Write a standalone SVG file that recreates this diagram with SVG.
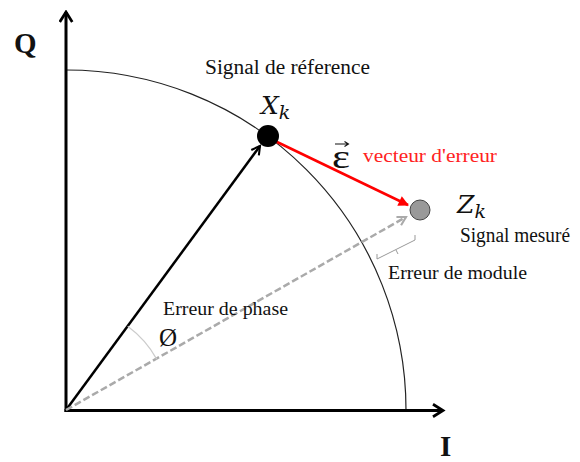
<svg xmlns="http://www.w3.org/2000/svg" width="580" height="462" viewBox="0 0 580 462">
<style>
.t{font-family:"Liberation Serif","Times New Roman",serif;fill:#111}
.m{font-family:"DejaVu Serif","Liberation Serif",serif;font-style:italic;fill:#111}
.b{font-family:"Liberation Serif","Times New Roman",serif;font-weight:bold;fill:#111}
</style>
<defs>
<marker id="ax" viewBox="0 0 12 12" refX="10" refY="6" markerWidth="5" markerHeight="5" orient="auto" markerUnits="strokeWidth">
<path d="M2,1 L10,6 L2,11" fill="none" stroke="#000" stroke-width="2.2"/>
</marker>
<marker id="ab" viewBox="0 0 12 12" refX="10" refY="6" markerWidth="5" markerHeight="5" orient="auto" markerUnits="strokeWidth">
<path d="M2,1.5 L10,6 L2,10.5" fill="none" stroke="#000" stroke-width="2"/>
</marker>
<marker id="ar" viewBox="0 0 12 12" refX="10" refY="6" markerWidth="5" markerHeight="5" orient="auto" markerUnits="strokeWidth">
<path d="M1,1 L11,6 L1,11 Z" fill="#f00"/>
</marker>
<marker id="ag" viewBox="0 0 12 12" refX="10" refY="6" markerWidth="5" markerHeight="5" orient="auto" markerUnits="strokeWidth">
<path d="M2,1.5 L10,6 L2,10.5" fill="none" stroke="#aaa" stroke-width="2"/>
</marker>
</defs>
<rect width="580" height="462" fill="#fff"/>
<g id="connectors">
<path d="M66,70 A340,340 0 0 1 406,410" fill="none" stroke="#222" stroke-width="1.2"/>
<line x1="66" y1="412" x2="66" y2="12" stroke="#000" stroke-width="3" marker-end="url(#ax)"/>
<line x1="64.5" y1="410.5" x2="443" y2="410.5" stroke="#000" stroke-width="3" marker-end="url(#ax)"/>
<line x1="66" y1="410" x2="260" y2="146" stroke="#000" stroke-width="2.5" marker-end="url(#ab)"/>
<line x1="66" y1="410" x2="406" y2="217" stroke="#aaa" stroke-width="2.5" stroke-dasharray="7,3" marker-end="url(#ag)"/>
<line x1="275" y1="141" x2="408" y2="205" stroke="#f00" stroke-width="2.5" marker-end="url(#ar)"/>
<path d="M127.7,326.3 A104,104 0 0 1 156.7,359.1" fill="none" stroke="#ccc" stroke-width="1.2"/>
<path d="M377,254 L377,259 L415,240 L415,235 M396,250 L398,254" fill="none" stroke="#999" stroke-width="1"/>
<path d="M335,144 L348,144 M344.5,141.5 L348.5,144 L344.5,146.5" fill="none" stroke="#111" stroke-width="1.1"/>
</g>
<g id="Xk">
<circle cx="268" cy="136" r="11" fill="#000"/>
<text class="m" x="261" y="114" font-size="25">X<tspan font-size="19" dy="5">k</tspan></text>
</g>
<g id="Zk">
<circle cx="420" cy="210" r="10" fill="#999" stroke="#444" stroke-width="1"/>
<text class="m" x="457" y="213" font-size="25">Z<tspan font-size="19" dy="5">k</tspan></text>
</g>
<g id="labels">
<text class="b" x="14" y="53" font-size="29">Q</text>
<text class="b" x="440" y="456" font-size="29">I</text>
<text class="t" x="205" y="74" font-size="20" textLength="165" lengthAdjust="spacingAndGlyphs">Signal de réference</text>
<text class="t" x="332" y="168" font-size="34" textLength="18" lengthAdjust="spacingAndGlyphs">ε</text>
<text class="t" x="363" y="162" font-size="19" style="fill:#f22" textLength="134" lengthAdjust="spacingAndGlyphs">vecteur d'erreur</text>
<text class="t" x="460" y="242" font-size="20" textLength="110" lengthAdjust="spacingAndGlyphs">Signal mesuré</text>
<text class="t" x="388" y="279" font-size="19" textLength="139" lengthAdjust="spacingAndGlyphs">Erreur de module</text>
<text class="t" x="163" y="315" font-size="18" textLength="125" lengthAdjust="spacingAndGlyphs">Erreur de phase</text>
<text class="t" x="159" y="346" font-size="25">Ø</text>
</g>
</svg>
